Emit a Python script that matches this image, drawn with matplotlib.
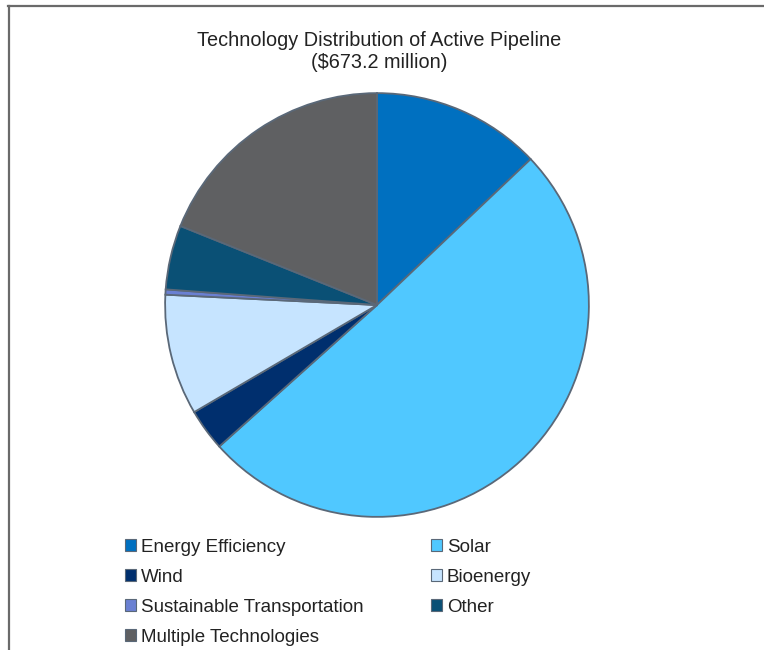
import matplotlib.pyplot as plt
from matplotlib.lines import Line2D
from matplotlib.patches import Patch

labels = ['Energy Efficiency', 'Solar', 'Wind', 'Bioenergy',
          'Sustainable Transportation', 'Other', 'Multiple Technologies']
shares = [12.9, 50.4, 3.2, 9.2, 0.4, 4.9, 18.9]
colors = ['#0070C0', '#50C8FF', '#002F6E', '#C6E4FF',
          '#6A80D2', '#0A5075', '#5F6062']

plt.rcParams['font.family'] = ['Liberation Sans', 'DejaVu Sans']

W, H = 764, 650
fig = plt.figure(figsize=(W / 100, H / 100), dpi=100)
fig.patch.set_facecolor('white')

# pie axes: center (377, 305) px, radius 214 px
cx, cy, r = 377, 305, 214
ax = fig.add_axes([(cx - r) / W, (H - cy - r) / H, 2 * r / W, 2 * r / H])
ax.pie(shares, colors=colors, startangle=90, counterclock=False, radius=1,
       wedgeprops=dict(edgecolor='#5A6878', linewidth=1.3))
ax.set_xlim(-1.01, 1.01)
ax.set_ylim(-1.01, 1.01)
ax.set_aspect('equal')
ax.axis('off')

fig.text(379 / W, 1 - 40 / H, 'Technology Distribution of Active Pipeline',
         ha='center', va='center', fontsize=14.3, color='#222222')
fig.text(379 / W, 1 - 62 / H, '($673.2 million)',
         ha='center', va='center', fontsize=14.3, color='#222222')

# legend: row-major order like the original -> reorder for column filling
handles = [Patch(facecolor=c, edgecolor='#5A6878', linewidth=0.8) for c in colors]
order = [0, 2, 4, 6, 1, 3, 5]
leg = fig.legend([handles[i] for i in order], [labels[i] for i in order],
                 ncol=2, loc='upper left', bbox_to_anchor=(125 / W, 1 - 539 / H),
                 frameon=False, fontsize=13.5, handlelength=0.6, handleheight=0.6,
                 handletextpad=0.27, labelspacing=0.69, columnspacing=3.55,
                 borderaxespad=0, borderpad=0)
for t in leg.get_texts():
    t.set_color('#222222')

# partial chart border (top and left edges visible)
fig.add_artist(Line2D([8 / W, 1], [1 - 6 / H, 1 - 6 / H], color='#6A6A6A', lw=1.6))
fig.add_artist(Line2D([8.5 / W, 8.5 / W], [0, 1 - 6 / H], color='#6A6A6A', lw=1.6))

fig.savefig('out.png', dpi=100, facecolor='white')
